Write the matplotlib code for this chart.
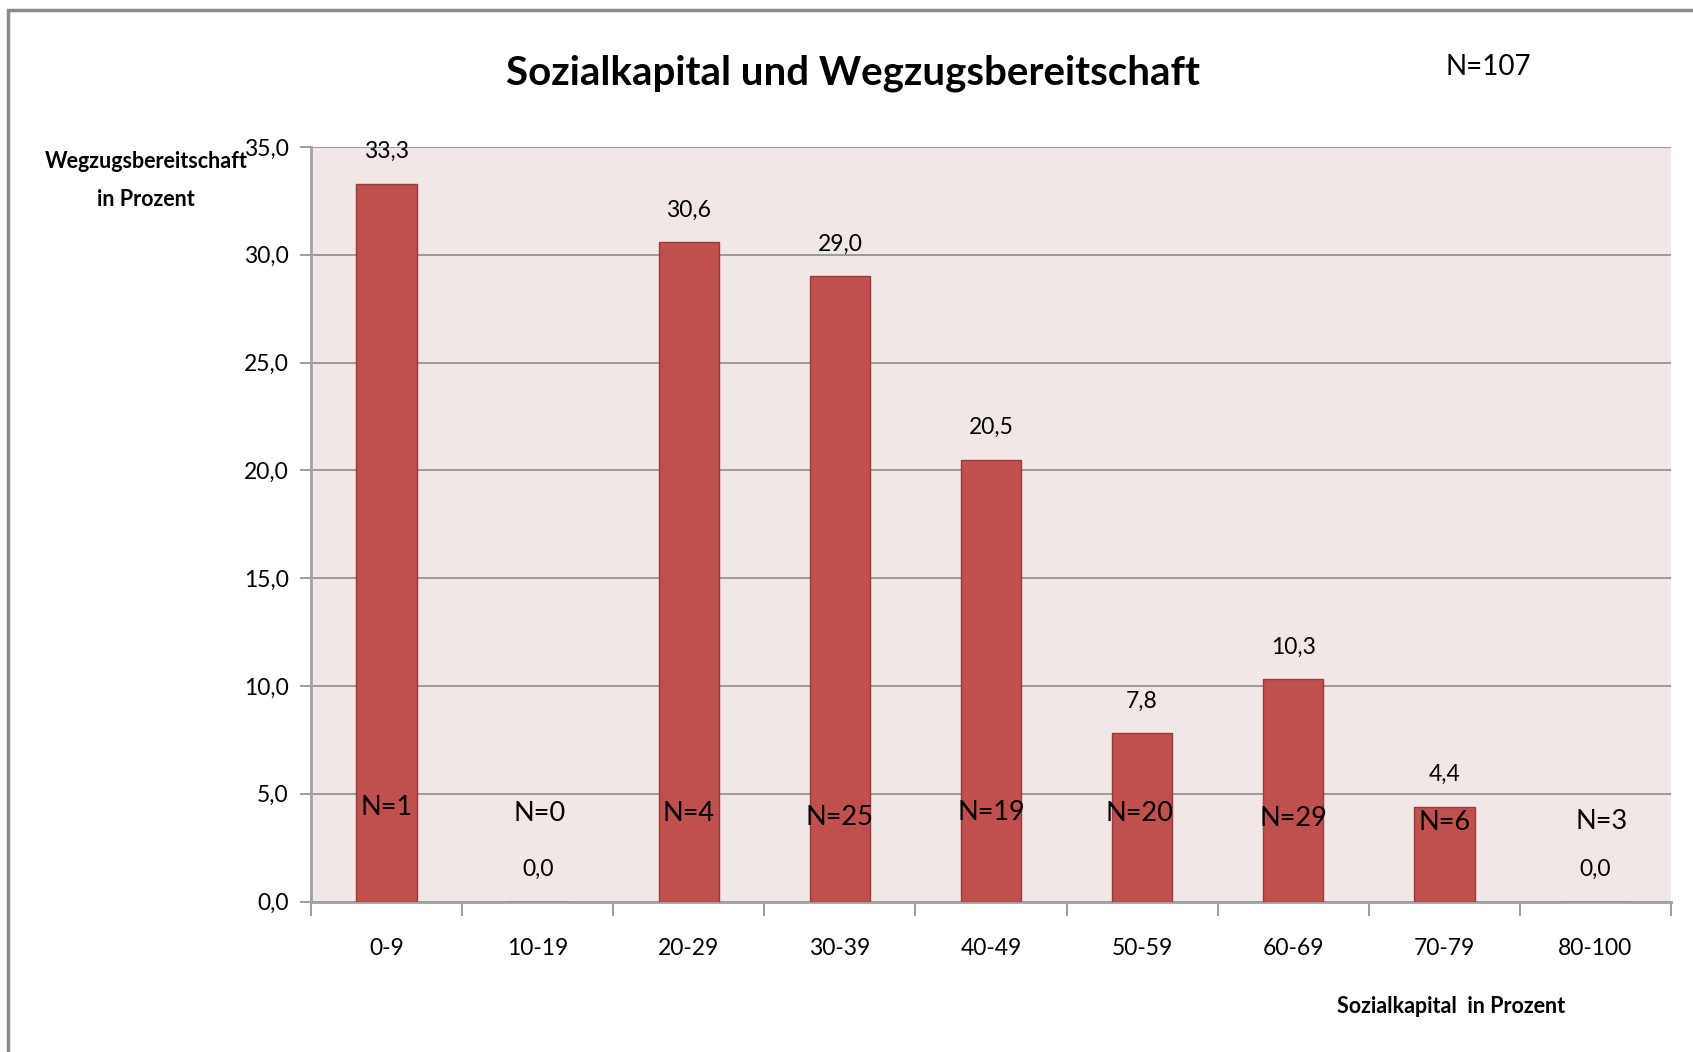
import matplotlib
matplotlib.use("Agg")
import matplotlib.pyplot as plt
from matplotlib.patches import Rectangle
import numpy as np

# ---- data ----
categories = ["0-9", "10-19", "20-29", "30-39", "40-49", "50-59", "60-69", "70-79", "80-100"]
values = [33.3, 0.0, 30.6, 29.0, 20.5, 7.8, 10.3, 4.4, 0.0]
n_counts = [1, 0, 4, 25, 19, 20, 29, 6, 3]
y_ticks = [0, 5, 10, 15, 20, 25, 30, 35]
total_n = 107

# ---- layout of manually placed N labels (data units) ----
n_label_y = [4.36, 4.1, 4.1, 3.9, 4.15, 4.1, 3.86, 3.66, 3.7]
n_label_dx = [0.0, 0.01, 0.0, 0.0, 0.0, -0.02, 0.0, 0.0, 0.04]

FONT = ['Lato', 'DejaVu Sans']
plt.rcParams['font.family'] = FONT

fig = plt.figure(figsize=(16.93, 10.52), dpi=100)
ax = fig.add_axes([0.1837, 0.1430, 0.8033, 0.7173])

bar_color = "#C0504D"
ax.set_facecolor("#F2E7E7")
x = np.arange(len(categories))
ax.bar(x, values, width=0.4, color=bar_color, edgecolor="#9B3B39", linewidth=1, zorder=3)

ax.set_xlim(-0.5, len(categories) - 0.5)
ax.set_ylim(0, 35)
ax.set_yticks(y_ticks)
ax.set_yticklabels([f"{v:.1f}".replace(".", ",") for v in y_ticks])
ax.yaxis.grid(True, color="#8C8C8C", linewidth=1.2, zorder=1)
ax.set_axisbelow(True)

ax.set_xticks(x)
ax.set_xticklabels(categories)
ax.set_xticks(np.arange(len(categories) + 1) - 0.5, minor=True)
ax.tick_params(axis='x', which='major', length=0, pad=26, labelsize=16.5)
ax.tick_params(axis='x', which='minor', length=10, width=1.2, color="#8C8C8C")
ax.tick_params(axis='y', length=8, width=1.2, color="#8C8C8C", pad=8, labelsize=16.5)

for s in ["top", "right"]:
    ax.spines[s].set_visible(False)
for s in ["left", "bottom"]:
    ax.spines[s].set_color("#A0A0A0")
    ax.spines[s].set_linewidth(2)

# value labels
for xi, v in zip(x, values):
    ax.annotate(f"{v:.1f}".replace(".", ","), (xi, v), xytext=(0, 23),
                textcoords="offset points", ha="center", va="center", fontsize=16.5)

# N labels
for xi, n, ly, dx in zip(x, n_counts, n_label_y, n_label_dx):
    ax.text(xi + dx, ly, f"N={n}", ha="center", va="center", fontsize=19.5, zorder=5)

# texts
fig.text(0.504, 0.9306, "Sozialkapital und Wegzugsbereitschaft", ha="center", va="center",
         fontsize=29, fontweight="bold")
fig.text(0.879, 0.9363, f"N={total_n}", ha="center", va="center", fontsize=20)
fig.text(0.0862, 0.8284, "Wegzugsbereitschaft\nin Prozent", ha="center", va="center",
         fontsize=15.5, fontweight="bold", linespacing=1.95)
fig.text(0.857, 0.0437, "Sozialkapital  in Prozent", ha="center", va="center",
         fontsize=15.5, fontweight="bold")

# outer frame (cropped chart border)
fig.patches.append(Rectangle((0.0047, -0.1), 1.2, 1.0905, transform=fig.transFigure,
                             fill=False, edgecolor="#8A8A8A", linewidth=2.5, clip_on=False))

fig.savefig("out.png", dpi=100, facecolor="white")
